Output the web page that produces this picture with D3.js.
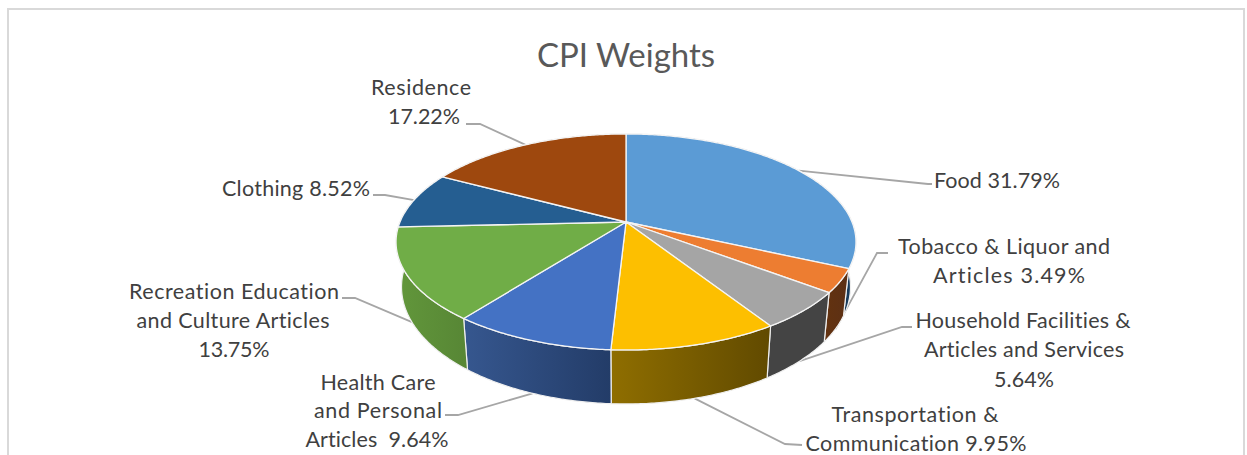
<!DOCTYPE html>
<html><head><meta charset="utf-8">
<script src="https://cdn.jsdelivr.net/npm/d3@7/dist/d3.min.js"></script>
<style>html,body{margin:0;padding:0;background:#fff;overflow:hidden}svg{display:block}</style>
</head><body><svg id="c" width="1247" height="455"></svg>
<script>
const title = "CPI Weights";
const categories = ["Food","Tobacco & Liquor and Articles","Household Facilities & Articles and Services","Transportation & Communication","Health Care and Personal Articles","Recreation Education and Culture Articles","Clothing","Residence"];
const weights = [31.79,3.49,5.64,9.95,9.64,13.75,8.52,17.22];
const topColors = ["#5b9bd5","#ed7d31","#a5a5a5","#fdbf00","#4472c4","#70ad47","#255e91","#9e480e"];
const wallLeft  = ["#1d4467","#63320f","#444444","#8f6e00","#36578f","#62973b","#1b4669","#6f330a"];
const wallRight = ["#183a59","#5c3015","#444444","#614a00","#233c68","#578635","#1b4669","#6f330a"];
const labelLines = [
  ["Food 31.79%"],
  ["Tobacco & Liquor and","Articles 3.49%"],
  ["Household Facilities &","Articles and Services","5.64%"],
  ["Transportation &","Communication 9.95%"],
  ["Health Care","and Personal","Articles  9.64%"],
  ["Recreation Education","and Culture Articles","13.75%"],
  ["Clothing 8.52%"],
  ["Residence","17.22%"]];
const labelX = [[997],[1004,1009],[1023,1024,1024],[915,916],[378,378,377],[234,233,234],[296],[421,424]];
const labelY = [[180],[246,275],[320,349,379],[414,443],[382,410,439],[291,320,349],[188],[87,116]];
const labelW = [[126],[212,152],[215,200,60],[167,221],[115,128,143],[210,193,71],[148],[100,72]];
const elbows = [[[928,184],[932,184]],[[877,253],[888,253]],[[902,327],[912,327]],[[785,444],[802,445]],[[458,415],[445,415]],[[355,298],[342,298]],[[385,195],[373,195]],[[480,124],[466,124]]];
const leaderOnBottom = [false,true,true,true,true,true,false,false];

const svg = d3.select("#c");
const K = -0.185;
const rings = {top:{x0:626,y0:222,a:226,b:104.3}, bot:{x0:626,y0:265.3,a:220.6,b:113}};
const proj = (ring,th)=>{const u=Math.sin(th),v=-Math.cos(th),d=1+K*v;return [ring.x0+ring.a*u/d, ring.y0+ring.b*v/d];};
const arcs = d3.pie().sort(null).value(d=>d).startAngle(0).endAngle(2*Math.PI)(weights);
const samples = (a,b)=>{const n=Math.max(2,Math.ceil((b-a)/0.01));return d3.range(n+1).map(i=>a+(b-a)*i/n);};
const line = d3.line();

// frame
svg.append("rect").attr("x",8).attr("y",9).attr("width",1236).attr("height",470).attr("fill","#fff").attr("stroke","#d9d9d9").attr("stroke-width",2);

// title
svg.append("text").attr("x",626).attr("y",54).attr("text-anchor","middle").attr("dominant-baseline","central")
  .attr("font-family","Lato").attr("font-size",33).attr("fill","#595959").text(title);

// leaders (under the pie)
arcs.forEach((d,i)=>{
  const mid=(d.startAngle+d.endAngle)/2;
  const pts=[proj(leaderOnBottom[i]?rings.bot:rings.top,mid),...elbows[i]];
  svg.append("path").attr("d",line(pts)).attr("fill","none").attr("stroke","#a6a6a6").attr("stroke-width",1.8);
});

// gradients
const defs=svg.append("defs");
weights.forEach((w,i)=>{
  const g=defs.append("linearGradient").attr("id","w"+i).attr("x1","0").attr("x2","1").attr("y1","0").attr("y2","0");
  g.append("stop").attr("offset","0").attr("stop-color",wallLeft[i]);
  g.append("stop").attr("offset","1").attr("stop-color",wallRight[i]);
});

// side walls
arcs.forEach((d,i)=>{
  const ts=samples(d.startAngle,d.endAngle);
  const pts=[...ts.map(t=>proj(rings.top,t)),...ts.slice().reverse().map(t=>proj(rings.bot,t))];
  svg.append("path").attr("d",line(pts)+"Z").attr("fill",`url(#w${i})`).attr("stroke","#efefef").attr("stroke-width",1.2).attr("stroke-linejoin","round");
});

// top faces
arcs.forEach((d,i)=>{
  const ts=samples(d.startAngle,d.endAngle);
  const pts=[[rings.top.x0,rings.top.y0],...ts.map(t=>proj(rings.top,t))];
  svg.append("path").attr("d",line(pts)+"Z").attr("fill",topColors[i]).attr("stroke","#f4f4f4").attr("stroke-width",1.3).attr("stroke-linejoin","round");
});

// labels
labelLines.forEach((ls,i)=>ls.forEach((s,j)=>{
  svg.append("text").attr("x",labelX[i][j]).attr("y",labelY[i][j]).attr("text-anchor","middle").attr("dominant-baseline","central")
    .attr("font-family","Lato").attr("font-size",21.5).attr("fill","#404040").attr("xml:space","preserve")
    .attr("textLength",labelW[i][j]).attr("lengthAdjust","spacing")
    .style("white-space","pre").style("font-variant-ligatures","none").text(s);
}));
</script></body></html>
